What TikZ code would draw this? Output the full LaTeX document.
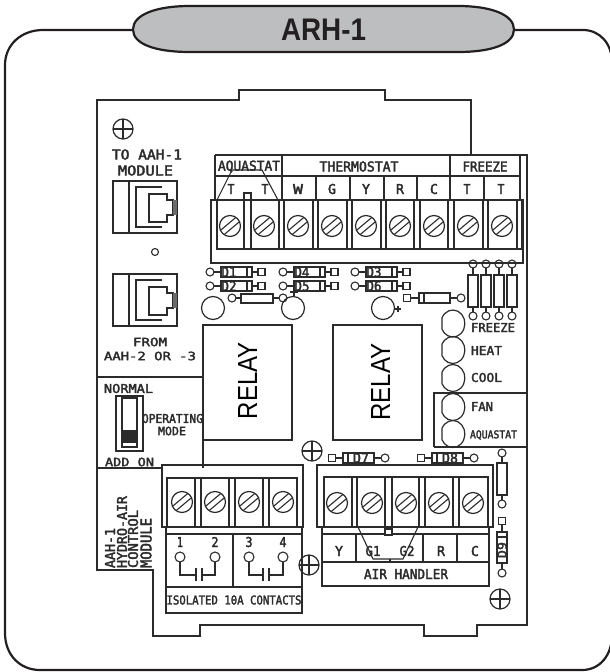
\documentclass[tikz,border=0pt]{standalone}
\usepackage{fontspec}
\usepackage{graphicx}
\setmainfont{Liberation Sans}
\newfontfamily\cad[FakeBold=2.6]{DejaVu Sans Mono}
\definecolor{frameink}{HTML}{231F20}
\definecolor{pillfill}{HTML}{BCBEC0}
\definecolor{ink}{HTML}{2B2B2B}
% name, centre, width, height, text : stretched caption
\newcommand{\lab}[5]{\node[inner sep=0pt,text=ink] (#1) at (#2) {\resizebox{#3pt}{#4pt}{\cad #5}};}
\newcommand{\rlab}[5]{\node[inner sep=0pt,text=ink,rotate=90] (#1) at (#2) {\resizebox{#3pt}{#4pt}{\cad #5}};}
\tikzset{
  board/.style={draw=ink,line width=1.2pt},
  thinl/.style={draw=ink,line width=1.1pt},
  framel/.style={draw=frameink,line width=2.2pt},
}
\newcommand{\screw}[2]{%
  \draw[board] (#1,#2) circle (10.5);
  \draw[thinl] (#1-5.94,#2+8.65) -- (#1+9.54,#2-4.35);
  \draw[thinl] (#1-9.54,#2+4.35) -- (#1+5.94,#2-8.65);
}
\newcommand{\target}[2]{%
  \draw[board] (#1,#2) circle (10);
  \draw[thinl] (#1-10,#2) -- (#1+10,#2);
  \draw[thinl] (#1,#2-10) -- (#1,#2+10);
}
\newcommand{\jack}[1]{%
  \draw[board] (113,#1) rectangle (177,#1+52);
  \draw[board] (129,#1) -- (129,#1+52);
  \draw[board] (162,#1+6) -- (136,#1+6) -- (136,#1+46) -- (162,#1+46);
  \draw[board] (149,#1+13) -- (167,#1+13) -- (167,#1+19) -- (173,#1+19) -- (173,#1+34) -- (167,#1+34) -- (167,#1+41) -- (149,#1+41) -- cycle;
  \fill[ink!70] (173,#1+19) rectangle (177,#1+34);
}
% horizontal diode, square right: circle x, y, name
\newcommand{\diodeR}[4]{%
  \draw[thinl] (#1,#2) circle (4);
  \draw[thinl] (#1+4,#2) -- (#1+11,#2);
  \draw[thinl] (#1+11,#2-5) rectangle (#1+42,#2+5);
  \draw[thinl] (#1+37,#2-5) -- (#1+37,#2+5);
  \draw[thinl] (#1+42,#2) -- (#1+48,#2);
  \draw[thinl] (#1+48,#2-3.5) rectangle (#1+55,#2+3.5);
  \lab{#4}{#1+19,#2}{15}{10}{#3}
}
% horizontal diode, square left: square centre x, y, name
\newcommand{\diodeL}[4]{%
  \draw[thinl] (#1-3.5,#2-3.5) rectangle (#1+3.5,#2+3.5);
  \draw[thinl] (#1+3.5,#2) -- (#1+11,#2);
  \draw[thinl] (#1+11,#2-5) rectangle (#1+42,#2+5);
  \draw[thinl] (#1+16,#2-5) -- (#1+16,#2+5);
  \draw[thinl] (#1+42,#2) -- (#1+49,#2);
  \draw[thinl] (#1+53,#2) circle (4);
  \lab{#4}{#1+29,#2}{16}{10}{#3}
}
\newcommand{\led}[1]{%
  \draw[board] (442,#1-5.7) arc[start angle=-155,delta angle=310,x radius=12,y radius=13.5] -- cycle;
}
\begin{document}
\begin{tikzpicture}[x=1pt,y=-1pt]
\useasboundingbox (0,0) rectangle (610,672);
\clip (0,0) rectangle (610,672);
% outer frame and title pill
\draw[framel] (133,30) -- (43,30) .. controls (21,30) and (5,45) .. (5,65) -- (5,633) .. controls (5,655) and (20,670) .. (40,670) -- (582,670) .. controls (600,670) and (612,655) .. (612,635) -- (612,62) .. controls (612,44) and (600,30) .. (583,30) -- (514,30);
\draw[framel,fill=pillfill] (133,29.5) .. controls (133,15) and (155,6) .. (190,6) -- (458,6) .. controls (492,6) and (514,15) .. (514,29.5) .. controls (514,44) and (492,52) .. (458,52) -- (190,52) .. controls (155,52) and (133,44) .. (133,29.5) -- cycle;
\node[inner sep=0pt,text=frameink] (title) at (323.5,29.5) {\resizebox{85pt}{21.5pt}{\bfseries ARH-1}};
% board outline
\draw[board] (471,155) -- (471,100) -- (385,100) -- (385,90) -- (239,90) -- (239,100) -- (97,100) -- (97,570) -- (153,570) -- (153,636) -- (200,636) -- (200,625) -- (424,625) -- (424,636) -- (477,636) -- (477,625) -- (527,625) -- (527,155) -- (215,155);
% left partitions
\draw[board] (97,377) -- (203,377);
\draw[board] (97,468) -- (162,468);
\draw[board] (203,440) -- (203,468);
% targets
\target{123}{129}\target{312}{451}\target{309}{565}\target{500}{599}
% jacks
\jack{181}\jack{274}
\draw[thinl] (155,252) circle (3.5);
\lab{toaah}{147,154.5}{70}{10}{TO AAH-1}
\lab{module}{145.5,170.5}{55}{10}{MODULE}
\lab{from}{150,342}{34}{8.5}{FROM}
\lab{aah}{150,356}{92}{8.5}{AAH-2 OR -3}
% switch
\draw[board] (116,396) rectangle (143,451);
\draw[board] (122,398) rectangle (137,447);
\fill[ink] (122,430) rectangle (137,443);
\lab{normal}{128.5,388.5}{49}{9}{NORMAL}
\lab{addon}{129.5,462}{49}{8.5}{ADD ON}
\lab{operating}{172.5,418.5}{61}{9}{OPERATING}
\lab{mode}{172,431}{28}{8.5}{MODE}
\rlab{r1}{110,548}{40}{10}{AAH-1}
\rlab{r2}{122,532}{72}{10}{HYDRO-AIR}
\rlab{r3}{133,539}{58}{10}{CONTROL}
\rlab{r4}{146,543}{50}{11}{MODULE}
% top terminal strip
\draw[board] (215,200) -- (215,155);
\draw[board] (520,155) -- (520,200);
\draw[board] (215,176) -- (520,176);
\draw[board] (215,200) -- (520,200);
\draw[board] (282,155) -- (282,200);
\draw[board] (450,155) -- (450,200);
\foreach \x in {316,350,384,417,484} \draw[board] (\x,176) -- (\x,200);
\draw[board] (211,200) rectangle (523,263);
\draw[board] (217,200) -- (217,249) -- (517,249);
\draw[board] (522,200) -- (522,249) -- (517,249);
\foreach \x in {244,279,313,347,381,414,448,483,517} \draw[board] (\x,200) -- (\x,249);
\foreach \x in {251,284,318,352,386,420,454,488} \draw[board] (\x,200) -- (\x,249);
\draw[board] (244,200) -- (244,193) -- (251,193) -- (251,200);
\draw[thinl] (217,200) -- (232,170) -- (262,170) -- (278,200);
\foreach \x in {230,264,298,332,366,400,434,468,502} {\screw{\x}{226}}
\lab{aqua}{249,166.5}{62}{10}{AQUASTAT}
\lab{thermo}{359,166.5}{79}{10}{THERMOSTAT}
\lab{freeze}{485,166.5}{45}{10}{FREEZE}
\lab{t1}{231,189}{7}{10}{T}
\lab{t2}{265,189}{7}{10}{T}
\lab{w}{298,189}{10}{10}{W}
\lab{g}{332,189}{8}{10}{G}
\lab{y}{366,189}{8}{10}{Y}
\lab{r}{400,189}{8}{10}{R}
\lab{c}{434,189}{8}{10}{C}
\lab{t3}{467,189}{7}{10}{T}
\lab{t4}{501,189}{7}{10}{T}
% diodes
\diodeR{210}{272}{D1}{d1}
\diodeR{210}{286}{D2}{d2}
\diodeR{283}{272}{D4}{d4}
\diodeR{283}{286}{D5}{d5}
\diodeR{355}{272}{D3}{d3}
\diodeR{355}{286}{D6}{d6}
% capacitors and resistor
\draw[board] (213,308) circle (11.5);
\draw[board] (293,308) circle (11.5);
\draw[board] (383,308) circle (11.5);
\draw[thinl] (290,292) -- (298,292) (294,288) -- (294,296);
\draw[thinl] (395,309) -- (401,309) (398,306) -- (398,312);
\draw[thinl] (232,298) circle (4);
\draw[thinl] (236,298) -- (241,298);
\draw[thinl] (241,294) rectangle (273,303);
\draw[thinl] (273,298) -- (279,298);
\draw[thinl] (283,298) circle (4);
% horizontal diode by resistors
\draw[thinl] (403.5,294.5) rectangle (410.5,301.5);
\draw[thinl] (410.5,298) -- (419,298);
\draw[thinl] (419,293) rectangle (450,303);
\draw[thinl] (424,293) -- (424,303);
\draw[thinl] (450,298) -- (457,298);
\draw[thinl] (461,298) circle (4);
% freeze resistors
\foreach \x in {473,486,499,512} {
  \draw[thinl] (\x,264) circle (4);
  \draw[thinl] (\x,268) -- (\x,275);
  \draw[thinl] (\x-5,275) rectangle (\x+5,307);
  \draw[thinl] (\x,307) -- (\x,312);
  \draw[thinl] (\x,316) circle (4);
}
% relays
\draw[board] (203,325) rectangle (292,440);
\draw[board] (333,325) rectangle (422,440);
\node[inner sep=0pt,rotate=90,text=black] (relay1) at (247.5,380.5) {\resizebox{77pt}{19pt}{RELAY}};
\node[inner sep=0pt,rotate=90,text=black] (relay2) at (380.5,382) {\resizebox{77pt}{19pt}{RELAY}};
% LEDs
\draw[board] (434,447) -- (434,393) -- (527,393);
\draw[board] (434,447) -- (527,447);
\led{323.5}\led{350}\led{378}\led{407}\led{434}
\lab{lfreeze}{493,327.5}{44}{9}{FREEZE}
\lab{lheat}{486.5,350.5}{31}{9}{HEAT}
\lab{lcool}{486.5,377.5}{31}{9}{COOL}
\lab{lfan}{482,406.5}{22}{9}{FAN}
\lab{laqua}{493.5,435}{47}{8}{AQUASTAT}
% lower diodes
\diodeL{332}{458}{D7}{d7}
\diodeL{421}{458}{D8}{d8}
% right vertical parts
\draw[thinl] (502,453) circle (4);
\draw[thinl] (502,457) -- (502,463);
\draw[thinl] (497,463) rectangle (507,495);
\draw[thinl] (502,495) -- (502,500);
\draw[thinl] (502,504) circle (4);
\draw[thinl] (498.5,517.5) rectangle (505.5,524.5);
\draw[thinl] (502,524.5) -- (502,532);
\draw[thinl] (497,532) rectangle (507,563);
\draw[thinl] (497,537) -- (507,537);
\draw[thinl] (502,563) -- (502,569);
\draw[thinl] (502,573) circle (4);
\rlab{d9}{502,550}{16}{9}{D9}
% lower left terminal block
\draw[board] (162,468) -- (162,465) -- (303,465) -- (303,527) -- (162,527) -- cycle;
\draw[board] (167,478) rectangle (297,527);
\foreach \x in {195,201,229,235,263,269} \draw[board] (\x,478) -- (\x,527);
\foreach \x in {182,215,249,283} {\screw{\x}{502}}
\draw[board] (166,527) rectangle (302,613);
\draw[board] (166,534) -- (302,534);
\draw[board] (166,587) -- (302,587);
\draw[board] (233,534) -- (233,587);
\lab{n1}{180,542}{6}{10}{1}
\lab{n2}{215,542}{7}{10}{2}
\lab{n3}{249,542}{7}{10}{3}
\lab{n4}{283,542}{7}{10}{4}
\foreach \x in {180,215,249,283} \draw[thinl] (\x,557) circle (5);
\draw[thinl] (180,562) -- (180,575) -- (196,575) (196,568) -- (196,581) (202,568) -- (202,581) (202,575) -- (215,575) -- (215,562);
\draw[thinl] (249,562) -- (249,575) -- (263,575) (263,568) -- (263,581) (269,568) -- (269,581) (269,575) -- (283,575) -- (283,562);
\lab{isolated}{234,600}{135}{9}{ISOLATED 10A CONTACTS}
% lower right terminal block
\draw[board] (317,465) rectangle (493,527);
\draw[board] (324,477) rectangle (488,527);
\foreach \x in {352,357,385,392,419,425,453,459} \draw[board] (\x,477) -- (\x,527);
\foreach \x in {337,372,406,439,473} {\screw{\x}{503}}
\draw[board] (322,527) rectangle (489,586);
\draw[board] (322,534) -- (489,534);
\draw[board] (322,562) -- (489,562);
\foreach \x in {356,423,457} \draw[board] (\x,534) -- (\x,562);
\draw[board,fill=white] (385,529) rectangle (392,535);
\draw[thinl] (358,527) -- (373,559) -- (403,559) -- (418,527);
\draw[thinl] (390,559) -- (390,562);
\lab{ly}{339,551}{8}{10}{Y}
\lab{lg1}{373,551}{15}{10}{G1}
\lab{lg2}{407,551}{15}{10}{G2}
\lab{lr}{441,551}{8}{10}{R}
\lab{lc}{475,551}{8}{10}{C}
\lab{airh}{406,574}{84}{10}{AIR HANDLER}
\end{tikzpicture}
\end{document}
